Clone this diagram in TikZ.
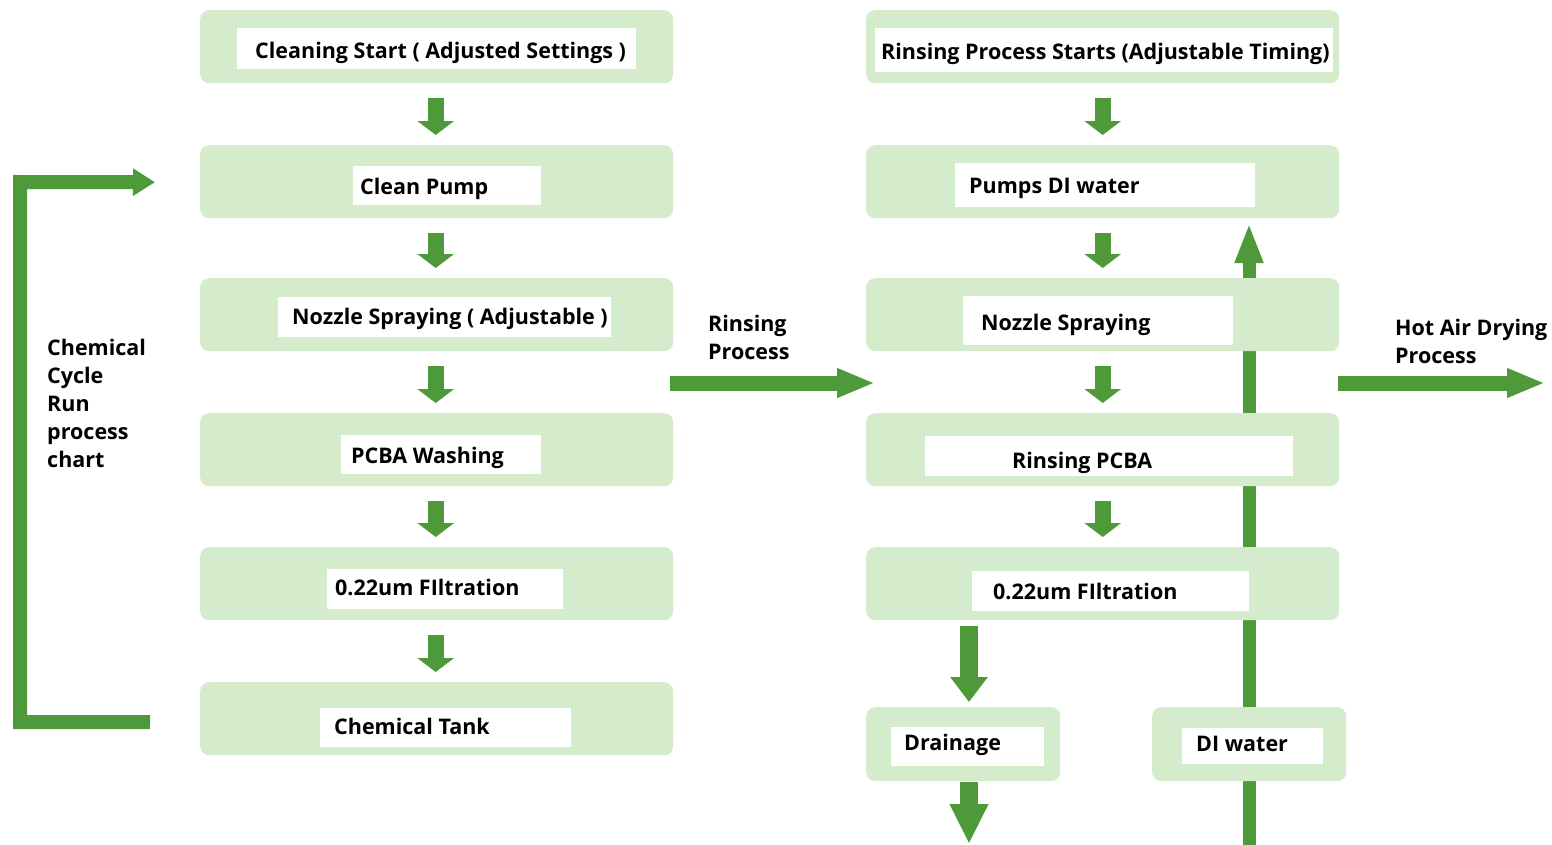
\documentclass[tikz,border=0pt]{standalone}
\usepackage{fontspec}
\setmainfont{Open Sans}
\usetikzlibrary{arrows.meta,calc}
\definecolor{boxg}{HTML}{D4ECCC}
\definecolor{arrg}{HTML}{4E9A3A}
\begin{document}
\begin{tikzpicture}[x=1pt,y=-1pt,
 gbox/.style={fill=boxg, rounded corners=9pt, anchor=north west, inner sep=0pt, minimum width=473pt, minimum height=73pt},
 wlab/.style={fill=white, anchor=north west, inner sep=0pt},
 txt/.style={anchor=base west, inner sep=0pt, font=\fontsize{21.5}{28}\selectfont\bfseries, text=black, align=left},
 dar/.style={draw=arrg, line width=16pt, -{Triangle[width=36pt,length=14pt]}},
 bigdar/.style={draw=arrg, line width=18pt, -{Triangle[width=36pt,length=25pt]}},
 har/.style={draw=arrg, line width=15pt, -{Triangle[width=27pt,length=38pt]}},
 uar/.style={draw=arrg, line width=13pt, -{Triangle[width=26pt,length=40pt]}},
 lar/.style={draw=arrg, line width=14pt, line join=miter, -{Triangle[width=26pt,length=22pt]}}
]
\useasboundingbox (0,0) rectangle (1552,844);
\clip (0,0) rectangle (1552,844);
\fill[white] (0,0) rectangle (1552,844);

% rising line behind boxes
\coordinate (vbot) at (1249,850);
\coordinate (vtop) at (1249,223);
\draw[uar] (vbot) -- (vtop);

% left column
\node[gbox] (L1) at (200,10) {};
\node[gbox] (L2) at (200,145) {};
\node[gbox] (L3) at (200,278) {};
\node[gbox] (L4) at (200,413) {};
\node[gbox] (L5) at (200,547) {};
\node[gbox] (L6) at (200,682) {};
\node[wlab, minimum width=399pt, minimum height=41pt] (L1w) at (237,28) {};
\node[wlab, minimum width=188pt, minimum height=39pt] (L2w) at (353,166) {};
\node[wlab, minimum width=333pt, minimum height=40pt] (L3w) at (278,297) {};
\node[wlab, minimum width=200pt, minimum height=39pt] (L4w) at (341,435) {};
\node[wlab, minimum width=236pt, minimum height=40pt] (L5w) at (327,569) {};
\node[wlab, minimum width=251pt, minimum height=39pt] (L6w) at (320,708) {};
\node[txt] (L1t) at (255,58) {Cleaning Start ( Adjusted Settings )};
\node[txt] (L2t) at (360,194) {Clean Pump};
\node[txt] (L3t) at (292,324) {Nozzle Spraying ( Adjustable )};
\node[txt] (L4t) at (351,463) {PCBA Washing};
\node[txt] (L5t) at (335,595) {0.22um FIltration};
\node[txt] (L6t) at (334,734) {Chemical Tank};

% right column
\node[gbox] (R1) at (866,10) {};
\node[gbox] (R2) at (866,145) {};
\node[gbox] (R3) at (866,278) {};
\node[gbox] (R4) at (866,413) {};
\node[gbox] (R5) at (866,547) {};
\node[gbox, minimum width=194pt, minimum height=74pt] (Dr) at (866,707) {};
\node[gbox, minimum width=194pt, minimum height=74pt] (DI) at (1152,707) {};
\node[wlab, minimum width=458pt, minimum height=44pt] (R1w) at (875,28) {};
\node[wlab, minimum width=300pt, minimum height=44pt] (R2w) at (955,163) {};
\node[wlab, minimum width=270pt, minimum height=49pt] (R3w) at (963,296) {};
\node[wlab, minimum width=368pt, minimum height=40pt] (R4w) at (925,436) {};
\node[wlab, minimum width=277pt, minimum height=40pt] (R5w) at (972,571) {};
\node[wlab, minimum width=153pt, minimum height=39pt] (Drw) at (891,727) {};
\node[wlab, minimum width=141pt, minimum height=36pt] (DIw) at (1182,728) {};
\node[txt] (R1t) at (881,59) {Rinsing Process Starts (Adjustable Timing)};
\node[txt] (R2t) at (969,193) {Pumps DI water};
\node[txt] (R3t) at (981,330) {Nozzle Spraying};
\node[txt] (R4t) at (1012,468) {Rinsing PCBA};
\node[txt] (R5t) at (993,599) {0.22um FIltration};
\node[txt] (Drt) at (904,750) {Drainage};
\node[txt] (DIt) at (1196,751) {DI water};

% side texts (base = baseline of last line)
\node[txt] (chem) at (47,467) {Chemical\\Cycle\\Run\\process\\chart};
\node[txt] (rins) at (708,359) {Rinsing\\Process};
\node[txt] (hot) at (1395,363) {Hot Air Drying\\Process};

% down arrows, left column
\foreach \a/\b in {L1/L2,L2/L3,L3/L4,L4/L5,L5/L6}
  \draw[dar] ($(\a.south)+(-1,15)$) -- ($(\b.north)+(-1,-10)$);
% down arrows, right column
\foreach \a/\b in {R1/R2,R2/R3,R3/R4,R4/R5}
  \draw[dar] ($(\a.south)+(0,15)$) -- ($(\b.north)+(0,-10)$);
\draw[bigdar] ($(R5.south west)+(103,6)$) -- ($(Dr.north west)+(103,-5)$);
\coordinate (drout) at (969,844);
\draw[bigdar, -{Triangle[width=36pt,length=40pt]}] ($(Dr.south west)+(103,1)$) -- (drout);

% horizontal arrows
\coordinate (rp1) at (670,383);
\coordinate (rp2) at (875,383);
\draw[har] (rp1) -- (rp2);
\coordinate (ha1) at (1338,383);
\coordinate (ha2) at (1545,383);
\draw[har] (ha1) -- (ha2);

% chemical loop
\draw[lar] ($(L6.west)+(-50,3.5)$) -- (20,722) -- (20,182) -- ($(L2.west)+(-45,0.5)$);
\end{tikzpicture}
\end{document}
